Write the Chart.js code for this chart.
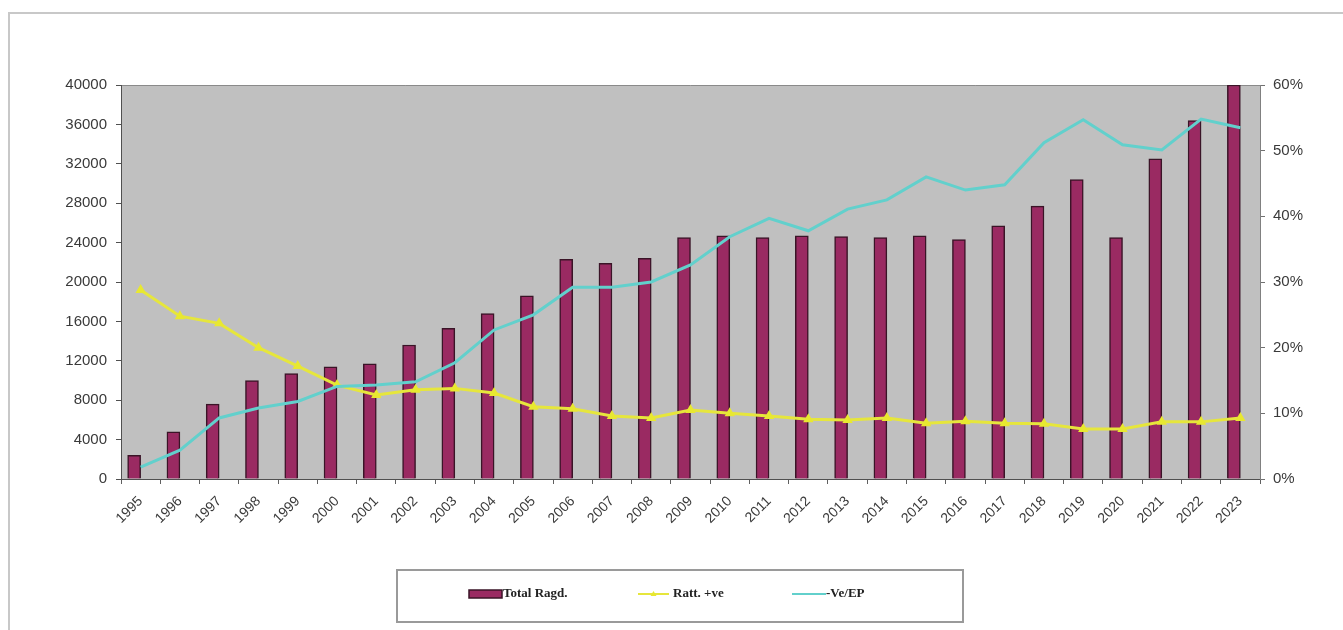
<!DOCTYPE html>
<html>
<head>
<meta charset="utf-8">
<script src="https://cdn.jsdelivr.net/npm/chart.js@4.4.1/dist/chart.umd.min.js"></script>
<style>
  body { margin: 0; background: #fff; }
  canvas { display: block; }
</style>
</head>
<body>
<canvas id="ragdChart" width="1343" height="630"></canvas>
<script>
const years = ['1995', '1996', '1997', '1998', '1999', '2000', '2001', '2002', '2003', '2004',
  '2005', '2006', '2007', '2008', '2009', '2010', '2011', '2012', '2013', '2014',
  '2015', '2016', '2017', '2018', '2019', '2020', '2021', '2022', '2023'];

const totalRagd = [2400, 4800, 7600, 10000, 10700, 11400, 11700, 13600, 15300, 16800,
  18600, 22300, 21900, 22400, 24500, 24700, 24500, 24700, 24600, 24500,
  24700, 24300, 25700, 27700, 30400, 24500, 32500, 36400, 40000];

// percentages
const rattPositive = [28.8, 24.8, 23.7, 20.0, 17.2, 14.3, 12.8, 13.6, 13.8, 13.1,
  11.0, 10.7, 9.6, 9.3, 10.5, 10.0, 9.6, 9.1, 9.0, 9.3,
  8.5, 8.8, 8.5, 8.4, 7.6, 7.6, 8.7, 8.7, 9.3];

const negVeEp = [1.8, 4.4, 9.3, 10.8, 11.8, 14.1, 14.3, 14.8, 17.7, 22.7,
  25.0, 29.2, 29.2, 30.0, 32.6, 36.9, 39.7, 37.8, 41.1, 42.5,
  46.0, 44.0, 44.8, 51.2, 54.7, 50.9, 50.1, 54.8, 53.5];

const countTicks = [0, 4000, 8000, 12000, 16000, 20000, 24000, 28000, 32000, 36000, 40000];
const percentTicks = [0, 10, 20, 30, 40, 50, 60];

const axisFont = { family: "'Liberation Sans', Arial, sans-serif", size: 15 };
const yearFont = { family: "'Liberation Sans', Arial, sans-serif", size: 14 };
const tickColor = '#3a3a3a';

// outer frame + grey plot background
const framePlugin = {
  id: 'frame',
  beforeDraw(chart) {
    const { ctx, chartArea: a } = chart;
    ctx.save();
    ctx.strokeStyle = '#c8c8c8';
    ctx.lineWidth = 2;
    ctx.strokeRect(9, 13, 1400, 700);
    ctx.fillStyle = '#c0c0c0';
    ctx.fillRect(a.left, a.top, a.right - a.left, a.bottom - a.top);
    ctx.strokeStyle = '#8a8a8a';
    ctx.lineWidth = 1;
    ctx.beginPath();
    ctx.moveTo(a.left, a.top + 0.5);
    ctx.lineTo(a.right, a.top + 0.5);
    ctx.stroke();
    ctx.restore();
  }
};

// boxed legend under the axis
const legendPlugin = {
  id: 'boxLegend',
  afterDraw(chart) {
    const { ctx } = chart;
    const ds = chart.data.datasets;
    const midY = 594;
    ctx.save();
    ctx.strokeStyle = '#9a9a9a';
    ctx.lineWidth = 2;
    ctx.strokeRect(397, 570, 566, 52);

    ctx.font = "bold 13px 'Liberation Serif', 'Times New Roman', serif";
    ctx.textBaseline = 'middle';

    const bars = ds[0];
    ctx.fillStyle = bars.backgroundColor;
    ctx.fillRect(469, midY - 4, 33, 8);
    ctx.strokeStyle = bars.borderColor;
    ctx.lineWidth = 1.5;
    ctx.strokeRect(469, midY - 4, 33, 8);
    ctx.fillStyle = '#222';
    ctx.fillText(bars.label, 503, midY);

    const lineItems = [[ds[2], 638, 669, 673], [ds[3], 792, 826, 826]];
    lineItems.forEach(([d, x0, x1, tx]) => {
      ctx.strokeStyle = d.borderColor;
      ctx.lineWidth = 2;
      ctx.beginPath();
      ctx.moveTo(x0, midY);
      ctx.lineTo(x1, midY);
      ctx.stroke();
      if (d.pointRadius > 0) {
        const cx = (x0 + x1) / 2;
        ctx.fillStyle = d.pointBackgroundColor;
        ctx.beginPath();
        ctx.moveTo(cx, midY - 3);
        ctx.lineTo(cx + 3, midY + 2);
        ctx.lineTo(cx - 3, midY + 2);
        ctx.closePath();
        ctx.fill();
      }
      ctx.fillStyle = '#222';
      ctx.fillText(d.label, tx, midY);
    });
    ctx.restore();
  }
};

new Chart(document.getElementById('ragdChart'), {
  data: {
    labels: years,
    datasets: [
      {
        type: 'bar',
        label: 'Total Ragd.',
        data: totalRagd,
        yAxisID: 'y',
        backgroundColor: '#9a2a62',
        borderColor: '#3a1427',
        borderWidth: 1.5,
        barThickness: 13,
        order: 3
      },
      {
        // empty slot beside each bar, keeps the bars left of the category centre
        type: 'bar',
        label: '',
        data: years.map(() => null),
        yAxisID: 'y',
        barThickness: 13,
        order: 4
      },
      {
        type: 'line',
        label: 'Ratt. +ve',
        data: rattPositive,
        yAxisID: 'y1',
        borderColor: '#e6e63c',
        borderWidth: 3,
        pointStyle: 'triangle',
        pointRadius: 3,
        pointBackgroundColor: '#e8e830',
        pointBorderColor: '#e8e830',
        tension: 0,
        order: 1
      },
      {
        type: 'line',
        label: '-Ve/EP',
        data: negVeEp,
        yAxisID: 'y1',
        borderColor: '#62d0cc',
        borderWidth: 3,
        pointRadius: 0,
        tension: 0,
        order: 0
      }
    ]
  },
  options: {
    responsive: false,
    devicePixelRatio: 1,
    animation: false,
    layout: { padding: { top: 85, left: 0, right: 0, bottom: 0 } },
    plugins: {
      legend: { display: false },
      tooltip: { enabled: false }
    },
    scales: {
      x: {
        grid: { display: true, drawOnChartArea: false, offset: true, tickLength: 5, color: '#606060' },
        border: { color: '#505050' },
        ticks: { minRotation: 45, maxRotation: 45, autoSkip: false, padding: 9, color: tickColor, font: yearFont },
        afterFit(scale) { scale.height = 151; }
      },
      y: {
        position: 'left',
        min: 0,
        max: 40000,
        grid: { drawOnChartArea: false, tickLength: 5, color: '#505050' },
        border: { color: '#505050' },
        ticks: { padding: 9, color: tickColor, font: axisFont, callback: v => String(v) },
        afterBuildTicks(scale) { scale.ticks = countTicks.map(v => ({ value: v })); },
        afterFit(scale) { scale.width = 121; }
      },
      y1: {
        position: 'right',
        min: 0,
        max: 60,
        grid: { drawOnChartArea: false, tickLength: 5, color: '#707070' },
        border: { color: '#808080' },
        ticks: { padding: 8, color: tickColor, font: axisFont, callback: v => v + '%' },
        afterBuildTicks(scale) { scale.ticks = percentTicks.map(v => ({ value: v })); },
        afterFit(scale) { scale.width = 83; }
      }
    }
  },
  plugins: [framePlugin, legendPlugin]
});
</script>
</body>
</html>
